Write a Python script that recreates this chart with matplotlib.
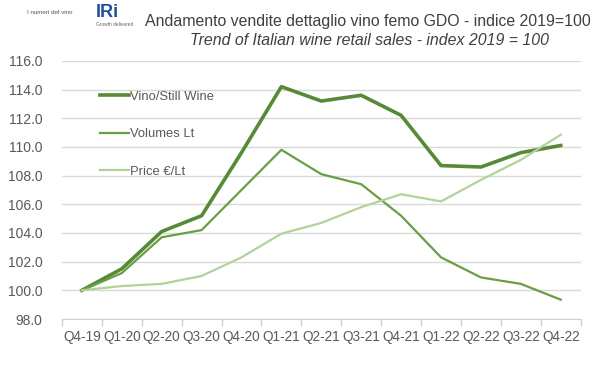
import matplotlib
matplotlib.use('Agg')
import matplotlib.pyplot as plt
from matplotlib.ticker import FixedLocator, FormatStrFormatter

quarters = ['Q4-19', 'Q1-20', 'Q2-20', 'Q3-20', 'Q4-20', 'Q1-21', 'Q2-21',
            'Q3-21', 'Q4-21', 'Q1-22', 'Q2-22', 'Q3-22', 'Q4-22']
vino = [100.0, 101.5, 104.1, 105.2, 109.6, 114.2, 113.2, 113.6, 112.2, 108.7, 108.6, 109.6, 110.1]
volumes = [100.0, 101.2, 103.7, 104.2, 107.0, 109.8, 108.1, 107.4, 105.2, 102.3, 100.9, 100.45, 99.35]
price = [100.0, 100.3, 100.45, 101.0, 102.3, 103.95, 104.7, 105.8, 106.7, 106.2, 107.7, 109.1, 110.85]

plt.rcParams['font.family'] = ['Liberation Sans', 'DejaVu Sans']
txt = '#595959'

fig = plt.figure(figsize=(5.95, 3.78), dpi=100)
ax = fig.add_axes([0.104, 0.156, 0.872, 0.683])

x = list(range(len(quarters)))
ax.plot(x, vino, color='#578a36', lw=2.6, label='Vino/Still Wine')
ax.plot(x, volumes, color='#6a9e45', lw=1.6, label='Volumes Lt')
ax.plot(x, price, color='#b2d29c', lw=1.6, label='Price €/Lt')

ax.set_xlim(-0.5, len(quarters) - 0.5)
ax.set_ylim(98, 116)
ax.set_yticks([98 + 2 * i for i in range(10)])
ax.yaxis.set_major_formatter(FormatStrFormatter('%.1f'))
ax.set_xticks(x)
ax.set_xticklabels(quarters)
ax.xaxis.set_minor_locator(FixedLocator([i - 0.5 for i in range(len(quarters) + 1)]))
ax.tick_params(axis='x', which='major', length=0, pad=8, labelsize=9.8, labelcolor=txt)
ax.tick_params(axis='x', which='minor', length=5, color='#d0d0d0', width=1)
ax.tick_params(axis='y', length=0, pad=14, labelsize=10, labelcolor=txt)

ax.grid(axis='y', color='#d9d9d9', lw=1)
ax.set_axisbelow(True)
for s in ['top', 'right', 'left']:
    ax.spines[s].set_visible(False)
ax.spines['bottom'].set_color('#d0d0d0')

ax.legend(loc='upper left', bbox_to_anchor=(0.05, 0.93), frameon=False,
          fontsize=9.4, labelspacing=1.95, handlelength=2.25, handletextpad=0.05,
          labelcolor=txt)

fig.text(0.619, 0.942, 'Andamento vendite dettaglio vino femo GDO - indice 2019=100',
         ha='center', va='center', fontsize=11.4, color='#404040')
fig.text(0.621, 0.894, 'Trend of Italian wine retail sales - index 2019 = 100',
         ha='center', va='center', fontsize=11.4, color='#404040', style='italic')

# logos as text
fig.text(0.045, 0.968, 'I numeri del vino', fontsize=4.5, color='#555555', va='center')
fig.text(0.161, 0.968, 'IRi', fontsize=13, color='#1f4e9c', weight='bold', va='center')
fig.text(0.161, 0.935, 'Growth delivered', fontsize=3.5, color='#666666', va='center')

fig.savefig('out.png', dpi=100)
